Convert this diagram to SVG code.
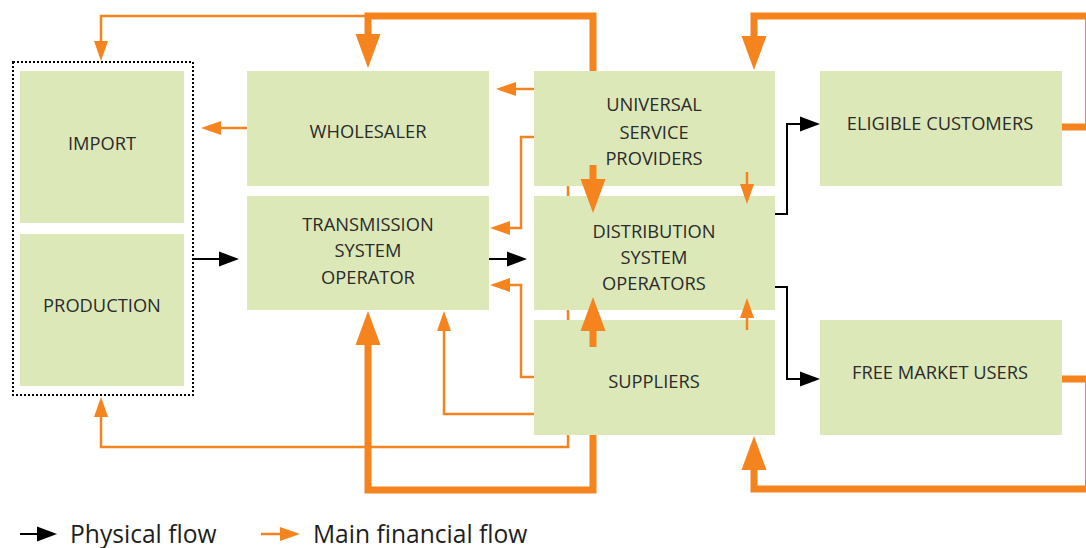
<svg xmlns="http://www.w3.org/2000/svg" width="1086" height="548" viewBox="0 0 1086 548">
<defs>
<style>
.box{fill:#dde8b9;}
.lbl{font-family:"Open Sans","Noto Sans","DejaVu Sans",sans-serif;font-size:18.3px;font-weight:500;fill:#2b2b2b;text-anchor:middle;}
.leg{font-family:"Open Sans","Noto Sans","DejaVu Sans",sans-serif;font-size:24.6px;fill:#1e1e1e;}
.fin{fill:none;stroke:#f5841f;stroke-width:2.5;}
.fin2{fill:none;stroke:#f5841f;stroke-width:7;}
.phy{fill:none;stroke:#000000;stroke-width:2;}
</style>
<marker id="ot" markerUnits="userSpaceOnUse" markerWidth="22" markerHeight="16" refX="0" refY="7" orient="auto" overflow="visible">
<path d="M0,0 L20,7 L0,14 z" fill="#f5841f"/>
</marker>
<marker id="OT" markerUnits="userSpaceOnUse" markerWidth="36" markerHeight="26" refX="0" refY="12.5" orient="auto" overflow="visible">
<path d="M0,0 L34,12.5 L0,25 z" fill="#f5841f"/>
</marker>
<marker id="bk" markerUnits="userSpaceOnUse" markerWidth="22" markerHeight="16" refX="0" refY="7.5" orient="auto" overflow="visible">
<path d="M0,0 L20,7.5 L0,15 z" fill="#000000"/>
</marker>
</defs>
<rect width="1086" height="548" fill="#ffffff"/>

<g id="connectors-back">
<path class="fin" d="M568,150 V447 H101 V417" marker-end="url(#ot)"/>
<path class="fin2" d="M593,430 V490 H368 V345" marker-end="url(#OT)"/>
<path class="fin2" d="M593,80 V16 H368 V34" marker-end="url(#OT)"/>
<path class="fin" d="M370,16 H101 V41" marker-end="url(#ot)"/>
</g>

<g id="import-production">
<rect x="13" y="62" width="180" height="333" fill="none" stroke="#000" stroke-width="2" stroke-dasharray="2 2"/>
</g>
<g id="import">
<rect class="box" x="20" y="71" width="164" height="152"/>
<text class="lbl" x="102" y="150">IMPORT</text>
</g>
<g id="production">
<rect class="box" x="20" y="234" width="164" height="152"/>
<text class="lbl" x="102" y="312">PRODUCTION</text>
</g>
<g id="wholesaler">
<rect class="box" x="247" y="71" width="242" height="115"/>
<text class="lbl" x="368" y="138">WHOLESALER</text>
</g>
<g id="tso">
<rect class="box" x="247" y="196" width="242" height="114"/>
<text class="lbl" x="368" y="231">TRANSMISSION</text>
<text class="lbl" x="368" y="257">SYSTEM</text>
<text class="lbl" x="368" y="284">OPERATOR</text>
</g>
<g id="usp">
<rect class="box" x="534" y="71" width="241" height="115"/>
<text class="lbl" x="654" y="111">UNIVERSAL</text>
<text class="lbl" x="654" y="139">SERVICE</text>
<text class="lbl" x="654" y="165">PROVIDERS</text>
</g>
<g id="dso">
<rect class="box" x="534" y="196" width="241" height="114"/>
<text class="lbl" x="654" y="238">DISTRIBUTION</text>
<text class="lbl" x="654" y="264">SYSTEM</text>
<text class="lbl" x="654" y="290">OPERATORS</text>
</g>
<g id="suppliers">
<rect class="box" x="534" y="320" width="241" height="115"/>
<text class="lbl" x="654" y="388">SUPPLIERS</text>
</g>
<g id="eligible">
<rect class="box" x="820" y="71" width="242" height="115"/>
<text class="lbl" x="940" y="130">ELIGIBLE CUSTOMERS</text>
</g>
<g id="freemarket">
<rect class="box" x="820" y="320" width="242" height="115"/>
<text class="lbl" x="940" y="379">FREE MARKET USERS</text>
</g>

<g id="connectors">
<path class="fin" d="M247,128 H221" marker-end="url(#ot)"/>
<path class="fin" d="M534,89 H516" marker-end="url(#ot)"/>
<path class="fin" d="M534,137 H521 V228 H510" marker-end="url(#ot)"/>
<path class="fin" d="M534,377 H521 V285 H510" marker-end="url(#ot)"/>
<path class="fin" d="M534,414 H444 V331" marker-end="url(#ot)"/>
<path class="fin" d="M747,172 V184" marker-end="url(#ot)"/>
<path class="fin" d="M747,330 V318" marker-end="url(#ot)"/>
<path class="fin2" d="M593,165 V179" marker-end="url(#OT)"/>
<path class="fin2" d="M593,347 V331" marker-end="url(#OT)"/>
<path class="fin2" d="M1062,127 H1088.5 V16 H754 V36" marker-end="url(#OT)"/>
<path class="fin2" d="M1062,379 H1088.5 V489 H754 V470" marker-end="url(#OT)"/>
<path class="phy" d="M193,259 H219" marker-end="url(#bk)"/>
<path class="phy" d="M489,259 H507" marker-end="url(#bk)"/>
<path class="phy" d="M775,214 H787 V124 H800" marker-end="url(#bk)"/>
<path class="phy" d="M775,287 H787 V379 H800" marker-end="url(#bk)"/>
</g>

<g id="legend">
<path class="phy" d="M20,534 H37" marker-end="url(#bk)"/>
<text class="leg" x="70" y="543">Physical flow</text>
<path class="fin" d="M261,534 H280" marker-end="url(#ot)"/>
<text class="leg" x="313" y="543">Main financial flow</text>
</g>
</svg>
